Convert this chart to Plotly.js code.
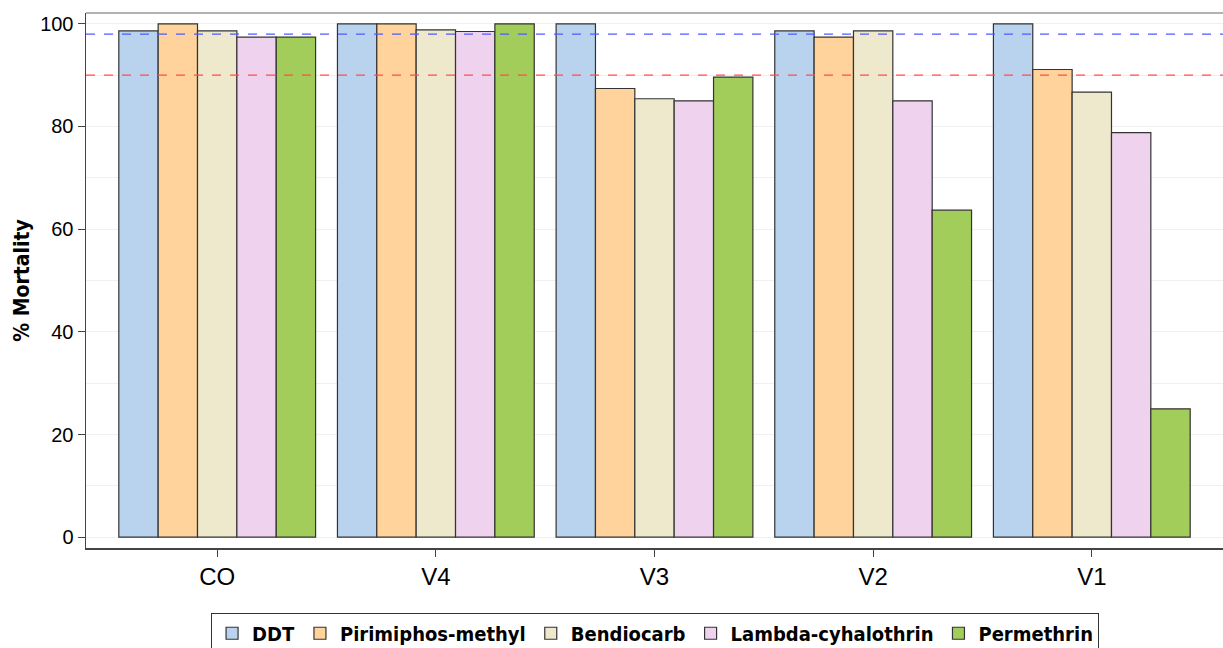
<!DOCTYPE html>
<html><head><meta charset="utf-8">
<script src="https://cdn.plot.ly/plotly-3.0.1.min.js"></script>
<style>body{margin:0;background:#fff}#chart{width:1223px;height:648px}</style>
</head><body><div id="chart"></div>
<script>
const sites = ["CO","V4","V3","V2","V1"];
const seriesNames = ["DDT","Pirimiphos-methyl","Bendiocarb","Lambda-cyhalothrin","Permethrin"];
const ddt = [98.6, 100, 100, 98.6, 100];
const pirimiphos = [100, 100, 87.4, 97.4, 91.1];
const bendiocarb = [98.6, 98.8, 85.4, 98.6, 86.7];
const lambda = [97.4, 98.5, 85.0, 85.0, 78.8];
const permethrin = [97.4, 100, 89.6, 63.7, 25.0];
const thresholds = [98, 90];
const yTicks = [0,20,40,60,80,100];

const colors = ["#b9d3ee","#ffd39b","#eee8cd","#eed2ee","#a2cd5a"];
const allVals = [ddt, pirimiphos, bendiocarb, lambda, permethrin];
const traces = allVals.map((v,i)=>({
  type:'bar', x:sites, y:v, name:seriesNames[i],
  marker:{color:colors[i], line:{color:'#333333', width:1.2}}
}));
const fontFam = '"DejaVu Sans Condensed","DejaVu Sans",sans-serif';
const layout = {
  width:1223, height:648,
  margin:{l:86, r:0, t:13, b:100, autoexpand:false},
  barmode:'group', bargap:0.1, bargroupgap:0,
  paper_bgcolor:'#fff', plot_bgcolor:'#fff',
  showlegend:true,
  legend:{orientation:'h', x:0.11, xanchor:'left', y:-0.121, yanchor:'top',
    bordercolor:'#333', borderwidth:1, font:{family:fontFam, size:20, color:'#000', weight:'bold'},
    itemwidth:20, tracegroupgap:0},
  xaxis:{range:[-0.6,4.6], showline:true, linecolor:'#444', linewidth:1.5, mirror:false,
    ticks:'outside', ticklen:7, tickcolor:'#444', tickfont:{family:'"Liberation Sans",Arial,sans-serif', size:24, color:'#000'},
    showgrid:false, zeroline:false},
  yaxis:{range:[-2.1,102.1], tickvals:yTicks, showline:true, linecolor:'#444', linewidth:1.5,
    ticks:'outside', ticklen:7, tickcolor:'#444', showgrid:false, zeroline:false,
    tickfont:{family:'"Liberation Sans",Arial,sans-serif', size:20, color:'#000'},
    minor:{dtick:10, showgrid:true, gridcolor:'#f0f0f0', gridwidth:1, ticks:''},
    title:{text:'% Mortality', font:{family:fontFam, size:21, color:'#000', weight:'bold'}, standoff:5}},
  shapes:[
    {type:'line', xref:'paper', x0:0, x1:1, yref:'y', y0:thresholds[0], y1:thresholds[0], line:{color:'#4d5cff', width:1.3, dash:'dash'}},
    {type:'line', xref:'paper', x0:0, x1:1, yref:'y', y0:thresholds[1], y1:thresholds[1], line:{color:'#ff4c4c', width:1.3, dash:'dash'}},
    {type:'line', xref:'paper', x0:0, x1:1, yref:'paper', y0:1, y1:1, line:{color:'#999', width:1.5}, layer:'above'}
  ]
};
Plotly.newPlot('chart', traces, layout, {staticPlot:true});
</script></body></html>
